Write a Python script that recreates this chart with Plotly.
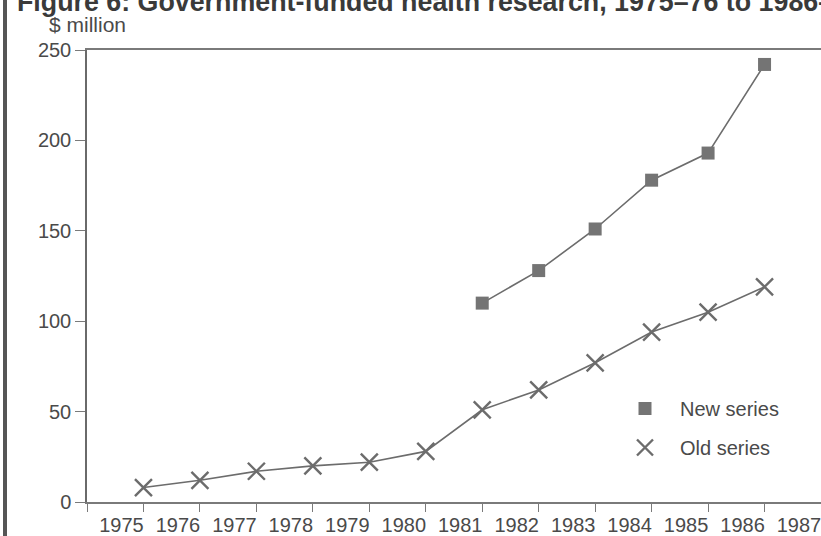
import plotly.graph_objects as go

years = [1975, 1976, 1977, 1978, 1979, 1980, 1981, 1982, 1983, 1984, 1985, 1986]
old_series = [8, 12, 17, 20, 22, 28, 51, 62, 77, 94, 105, 119]
new_years = [1981, 1982, 1983, 1984, 1985, 1986]
new_series = [110, 128, 151, 178, 193, 242]

tick_years = list(range(1974, 1988))
tick_text = [""] + [str(y) for y in range(1975, 1988)]
y_ticks = [0, 50, 100, 150, 200, 250]

FONT = "Arial, Liberation Sans, sans-serif"
TXT = "#4a4a4a"
LINE = "#6c6c6c"
MARK = "#747474"

fig = go.Figure()

# connecting lines
fig.add_trace(go.Scatter(x=years, y=old_series, mode="lines",
                         line=dict(color=LINE, width=1.6), showlegend=False, hoverinfo="skip"))
fig.add_trace(go.Scatter(x=new_years, y=new_series, mode="lines",
                         line=dict(color=LINE, width=1.6), showlegend=False, hoverinfo="skip"))
# markers (legend entries)
fig.add_trace(go.Scatter(x=new_years, y=new_series, mode="markers", name="New series",
                         legendgroup="new",
                         marker=dict(symbol="square", size=13, color=MARK,
                                     line=dict(width=0))))
fig.add_trace(go.Scatter(x=years, y=old_series, mode="markers", name="Old series",
                         legendgroup="old",
                         marker=dict(symbol="x-thin", size=17, color=LINE,
                                     line=dict(width=2.4, color=LINE))))

def px_x(p):
    return (p - 87) / 734.0

def px_y(q):
    return (502 - q) / 452.0

fig.update_layout(
    width=821, height=536,
    margin=dict(l=87, r=0, t=50, b=34),
    paper_bgcolor="white", plot_bgcolor="white",
    font=dict(family=FONT, size=20, color=TXT),
    showlegend=True,
    legend=dict(x=px_x(610), y=px_y(389), xanchor="left", yanchor="top",
                bgcolor="rgba(0,0,0,0)", itemwidth=60, tracegroupgap=10,
                font=dict(size=20, color=TXT), traceorder="grouped"),
    xaxis=dict(range=[1974, 1987], tickmode="array", tickvals=tick_years, ticktext=tick_text,
               automargin=False,
               showgrid=False, zeroline=False, showline=True, linecolor="#7a7a7a", linewidth=1.5,
               mirror=True, ticks="outside", ticklen=8, tickwidth=1.3, tickcolor="#7a7a7a",
               ticklabelshift=-22, ticklabelstandoff=-4, ticklabeloverflow="allow",
               tickfont=dict(size=20, color=TXT)),
    yaxis=dict(range=[0, 250], tickmode="array", tickvals=y_ticks, automargin=False,
               showgrid=False, zeroline=False, showline=True, linecolor="#6a6a6a", linewidth=1.5,
               ticks="outside", ticklen=10, tickwidth=1.3, tickcolor="#7a7a7a",
               tickfont=dict(size=20, color=TXT)),
)

fig.add_annotation(text="Figure 6: Government-funded health research, 1975\u201376 to 1986\u201387",
                   xref="paper", yref="paper", x=px_x(15), y=1, xanchor="left", yanchor="bottom",
                   yshift=31, showarrow=False,
                   font=dict(size=26.8, color="#3a3a3a", family=FONT, weight="bold"))
fig.add_annotation(text="$ million", xref="paper", yref="paper", x=px_x(47), y=1,
                   xanchor="left", yanchor="bottom", yshift=12, showarrow=False,
                   font=dict(size=21, color=TXT))
fig.add_shape(type="line", xref="paper", yref="paper", x0=px_x(5), x1=px_x(5), y0=-0.2, y1=1.3,
              line=dict(color="#555555", width=4))

fig.write_html("out.html", config={"displayModeBar": False},
               post_script="document.body.style.margin='0px';")
